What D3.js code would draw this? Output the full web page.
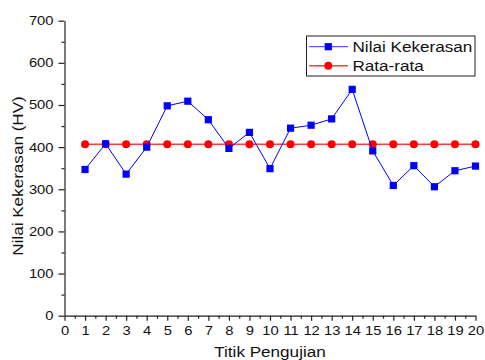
<!DOCTYPE html>
<html><head><meta charset="utf-8">
<script src="https://cdn.jsdelivr.net/npm/d3@7"></script>
<style>body{margin:0;background:#fff}svg{display:block}text{font-family:"Liberation Sans",Arial,sans-serif;fill:#111}</style>
</head><body><svg id="c" width="485" height="360"></svg>
<script>
const points = [1,2,3,4,5,6,7,8,9,10,11,12,13,14,15,16,17,18,19,20];
const nilaiKekerasan = [347,408,336,400,498,509,465,397,435,349,445,452,467,537,391,309,356,306,344,355];
const rataRata = [407,407,407,407,407,407,407,407,407,407,407,407,407,407,407,407,407,407,407,407];
const xTicks = [0,1,2,3,4,5,6,7,8,9,10,11,12,13,14,15,16,17,18,19,20];
const yTicks = [0,100,200,300,400,500,600,700];
const seriesNames = ["Nilai Kekerasan","Rata-rata"];

const SX = 1.18;
const svg = d3.select("#c");
const x = d3.scaleLinear().domain([0,20]).range([64.5,475.5]);
const y = d3.scaleLinear().domain([0,700]).range([315.7,20.7]);

const gx = svg.append("g").attr("transform","translate(0,315.7)");
gx.call(d3.axisBottom(x).tickValues(xTicks).tickFormat(d3.format("d")).tickSize(5).tickSizeOuter(0));
gx.append("g").call(d3.axisBottom(x).tickValues(d3.range(0.5,20,1)).tickFormat("").tickSize(3).tickSizeOuter(0)).select(".domain").remove();
const gy = svg.append("g").attr("transform","translate(64.5,0)");
gy.call(d3.axisLeft(y).tickValues(yTicks).tickFormat(d3.format("d")).tickSize(6).tickSizeOuter(0));
gy.append("g").call(d3.axisLeft(y).tickValues(d3.range(50,700,100)).tickFormat("").tickSize(3).tickSizeOuter(0)).select(".domain").remove();
svg.selectAll(".tick text").style("font-size","12.5px").style("font-family","'Liberation Sans',Arial,sans-serif").attr("fill","#111")
  .attr("transform",`scale(${SX},1)`);
gx.selectAll(".tick text").attr("dy","0.9em");
gy.selectAll(".tick text").attr("x",-11/SX);
svg.selectAll(".domain, .tick line").attr("stroke","#222").attr("stroke-width",1.2);

const line = d3.line().x((d,i)=>x(points[i])).y(d=>y(d));
svg.append("path").datum(rataRata).attr("d",line).attr("fill","none").attr("stroke","#ff4040").attr("stroke-width",1.6);
svg.selectAll(".rdot").data(rataRata).enter().append("circle")
  .attr("cx",(d,i)=>x(points[i])).attr("cy",d=>y(d)).attr("r",4).attr("fill","#ff0000");

svg.append("path").datum(nilaiKekerasan).attr("d",line).attr("fill","none").attr("stroke","#0000ff").attr("stroke-width",1);
svg.selectAll(".bsq").data(nilaiKekerasan).enter().append("rect")
  .attr("x",(d,i)=>x(points[i])-3.6).attr("y",d=>y(d)-3.6).attr("width",7.2).attr("height",7.2).attr("fill","#0000ff");

const lg = svg.append("g");
lg.append("rect").attr("x",306.5).attr("y",36).attr("width",168.5).attr("height",40).attr("fill","#fff").attr("stroke","#222").attr("stroke-width",1);
const rows = [{name:seriesNames[0],c:"#0000ff",lc:"#3030ff",shape:"sq",yy:46.7},{name:seriesNames[1],c:"#ff0000",lc:"#ff4040",shape:"ci",yy:65.7}];
rows.forEach(r=>{
  lg.append("line").attr("x1",309).attr("x2",348).attr("y1",r.yy).attr("y2",r.yy).attr("stroke",r.lc).attr("stroke-width",r.shape==="ci"?1.6:1);
  if(r.shape==="sq") lg.append("rect").attr("x",328.3-3.6).attr("y",r.yy-3.6).attr("width",7.2).attr("height",7.2).attr("fill",r.c);
  else lg.append("circle").attr("cx",328.3).attr("cy",r.yy).attr("r",4).attr("fill",r.c);
  lg.append("text").attr("transform",`translate(352.5,${r.yy}) scale(${SX},1)`).attr("dy","0.36em").style("font-size","14.5px").text(r.name);
});

svg.append("text").attr("transform",`translate(270,357) scale(${SX},1)`).attr("text-anchor","middle").style("font-size","14.5px").text("Titik Pengujian");
svg.append("text").attr("transform",`translate(22.5,176) rotate(-90) scale(${SX},1)`).attr("text-anchor","middle").style("font-size","14.5px").text("Nilai Kekerasan (HV)");
</script></body></html>
